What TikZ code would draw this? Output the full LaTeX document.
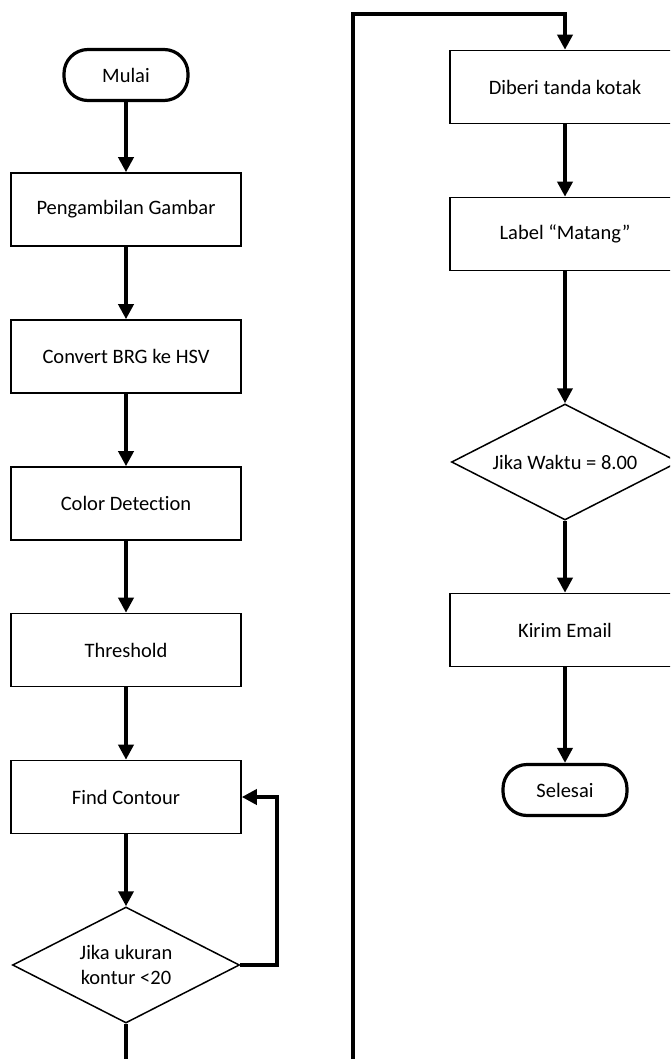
\documentclass[tikz,border=0pt]{standalone}
\usepackage{fontspec}
\setmainfont{Carlito}[Ligatures={NoCommon}]
\usetikzlibrary{shapes.geometric,arrows.meta}
\begin{document}
\begin{tikzpicture}[x=1pt,y=-1pt,
  every node/.style={font=\fontsize{20.5}{25}\selectfont},
  procbox/.style={draw, line width=1.6pt, fill=white, rectangle, minimum width=230pt, minimum height=73pt, inner sep=0pt},
  termbox/.style={draw, line width=3.2pt, fill=white, rectangle, rounded corners=24pt, minimum width=124pt, minimum height=51pt, inner sep=0pt},
  decbox/.style={draw, line width=1.5pt, fill=white, diamond, aspect=1.96, minimum width=227pt, minimum height=116pt, inner sep=0pt, align=center},
  conn/.style={line width=3.6pt, -{Triangle[length=15pt,width=15pt]}},
  plainline/.style={line width=3.6pt}
]
\useasboundingbox (0,0) rectangle (670,1059);
\clip (0,0) rectangle (670,1059);

% left column
\node[termbox] (mulai) at (126,75) {Mulai};
\node[procbox] (ambil) at (126,209.5) {Pengambilan Gambar};
\node[procbox] (convert) at (126,356.5) {Convert BRG ke HSV};
\node[procbox] (color) at (126,503.5) {Color Detection};
\node[procbox] (thresh) at (126,650) {Threshold};
\node[procbox] (find) at (126,797) {Find Contour};
\node[decbox] (d1) at (126,965) {Jika ukuran\\kontur <20};

% right column
\node[procbox] (diberi) at (565,87) {Diberi tanda kotak};
\node[procbox] (label) at (565,234) {Label “Matang”};
\node[decbox] (d2) at (565,462) {Jika Waktu = 8.00};
\node[procbox] (kirim) at (565,630) {Kirim Email};
\node[termbox] (selesai) at (565,790) {Selesai};

% connectors
\draw[conn] (mulai) -- (ambil);
\draw[conn] (ambil) -- (convert);
\draw[conn] (convert) -- (color);
\draw[conn] (color) -- (thresh);
\draw[conn] (thresh) -- (find);
\draw[conn] (find) -- (d1);

\coordinate (fb) at (277,900);
\draw[conn] (d1.east) -- (d1.east -| fb) |- (find.east);

\coordinate (lowR) at (353,1080);
\coordinate (topL) at (353,14);
\draw[conn] (d1.south) |- (lowR) -- (topL) -| (diberi.north);

\draw[conn] (diberi) -- (label);
\draw[conn] (label) -- (d2);
\draw[conn] (d2) -- (kirim);
\draw[conn] (kirim) -- (selesai);
\end{tikzpicture}
\end{document}
